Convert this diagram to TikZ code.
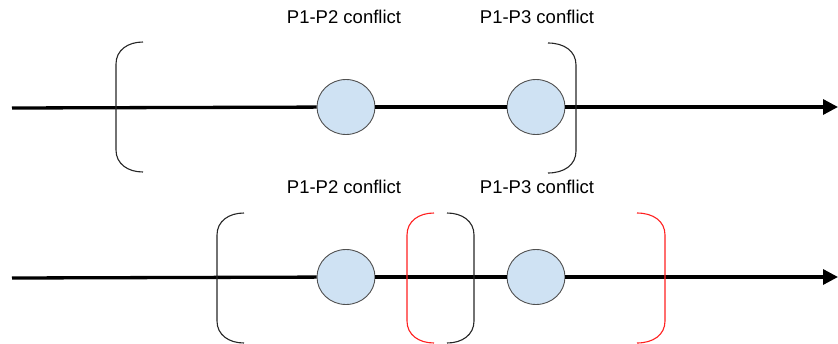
\documentclass[tikz,border=0pt]{standalone}
\usepackage{fontspec}
\setmainfont{Liberation Sans}
\usetikzlibrary{arrows.meta,shapes.geometric}
\definecolor{cfill}{HTML}{CFE2F3}
\definecolor{cedge}{HTML}{505050}
\definecolor{bred}{HTML}{FF2020}
\tikzset{
  event/.style={ellipse,draw=cedge,line width=0.9pt,fill=cfill,minimum width=58pt,minimum height=55pt,inner sep=0pt},
  timeline/.style={line width=3.3pt,black},
  bracket/.style={line width=1.1pt,draw=black!85},
  redbracket/.style={line width=1.1pt,draw=bred},
  lbl/.style={font=\fontsize{18.5}{21}\selectfont,inner sep=0pt,anchor=base}
}
\newcommand{\myLbr}[4]{% x vertical, x end, y top, style
  \draw[#4] (#2,#3) .. controls ({#1+12},#3) and (#1,{#3+8}) .. (#1,{#3+22}) -- (#1,{#3+108}) .. controls (#1,{#3+122}) and ({#1+12},{#3+130}) .. (#2,{#3+130});}
\newcommand{\myRbr}[4]{%
  \draw[#4] (#2,#3) .. controls ({#1-12},#3) and (#1,{#3+8}) .. (#1,{#3+22}) -- (#1,{#3+108}) .. controls (#1,{#3+122}) and ({#1-12},{#3+130}) .. (#2,{#3+130});}
\begin{document}
\begin{tikzpicture}[x=1pt,y=-1pt]
\useasboundingbox (0,0) rectangle (838,343);
% top timeline
\coordinate (s1) at (12,108);
\coordinate (e1) at (838,107);
\node[event] (a1) at (346,107) {};
\node[event] (b1) at (536,107) {};
\draw[timeline] (s1) -- (a1);
\draw[timeline] (a1) -- (b1);
\draw[timeline,-{Triangle[length=15pt,width=15pt]}] (b1) -- (e1);
\myLbr{116}{143}{42}{bracket}
\myRbr{576}{548}{43}{bracket}
\node[lbl] (t1) at (344,23) {P1-P2 conflict};
\node[lbl] (t2) at (537,23) {P1-P3 conflict};
% bottom timeline
\coordinate (s2) at (12,278);
\coordinate (e2) at (838,277);
\node[event] (a2) at (346,277) {};
\node[event] (b2) at (536,277) {};
\draw[timeline] (s2) -- (a2);
\draw[timeline] (a2) -- (b2);
\draw[timeline,-{Triangle[length=15pt,width=15pt]}] (b2) -- (e2);
\myLbr{217}{244}{213}{bracket}
\myRbr{474}{447}{213}{bracket}
\myLbr{407}{434}{213}{redbracket}
\myRbr{665}{637}{213}{redbracket}
\node[lbl] (t3) at (344,193) {P1-P2 conflict};
\node[lbl] (t4) at (537,193) {P1-P3 conflict};
\end{tikzpicture}
\end{document}
